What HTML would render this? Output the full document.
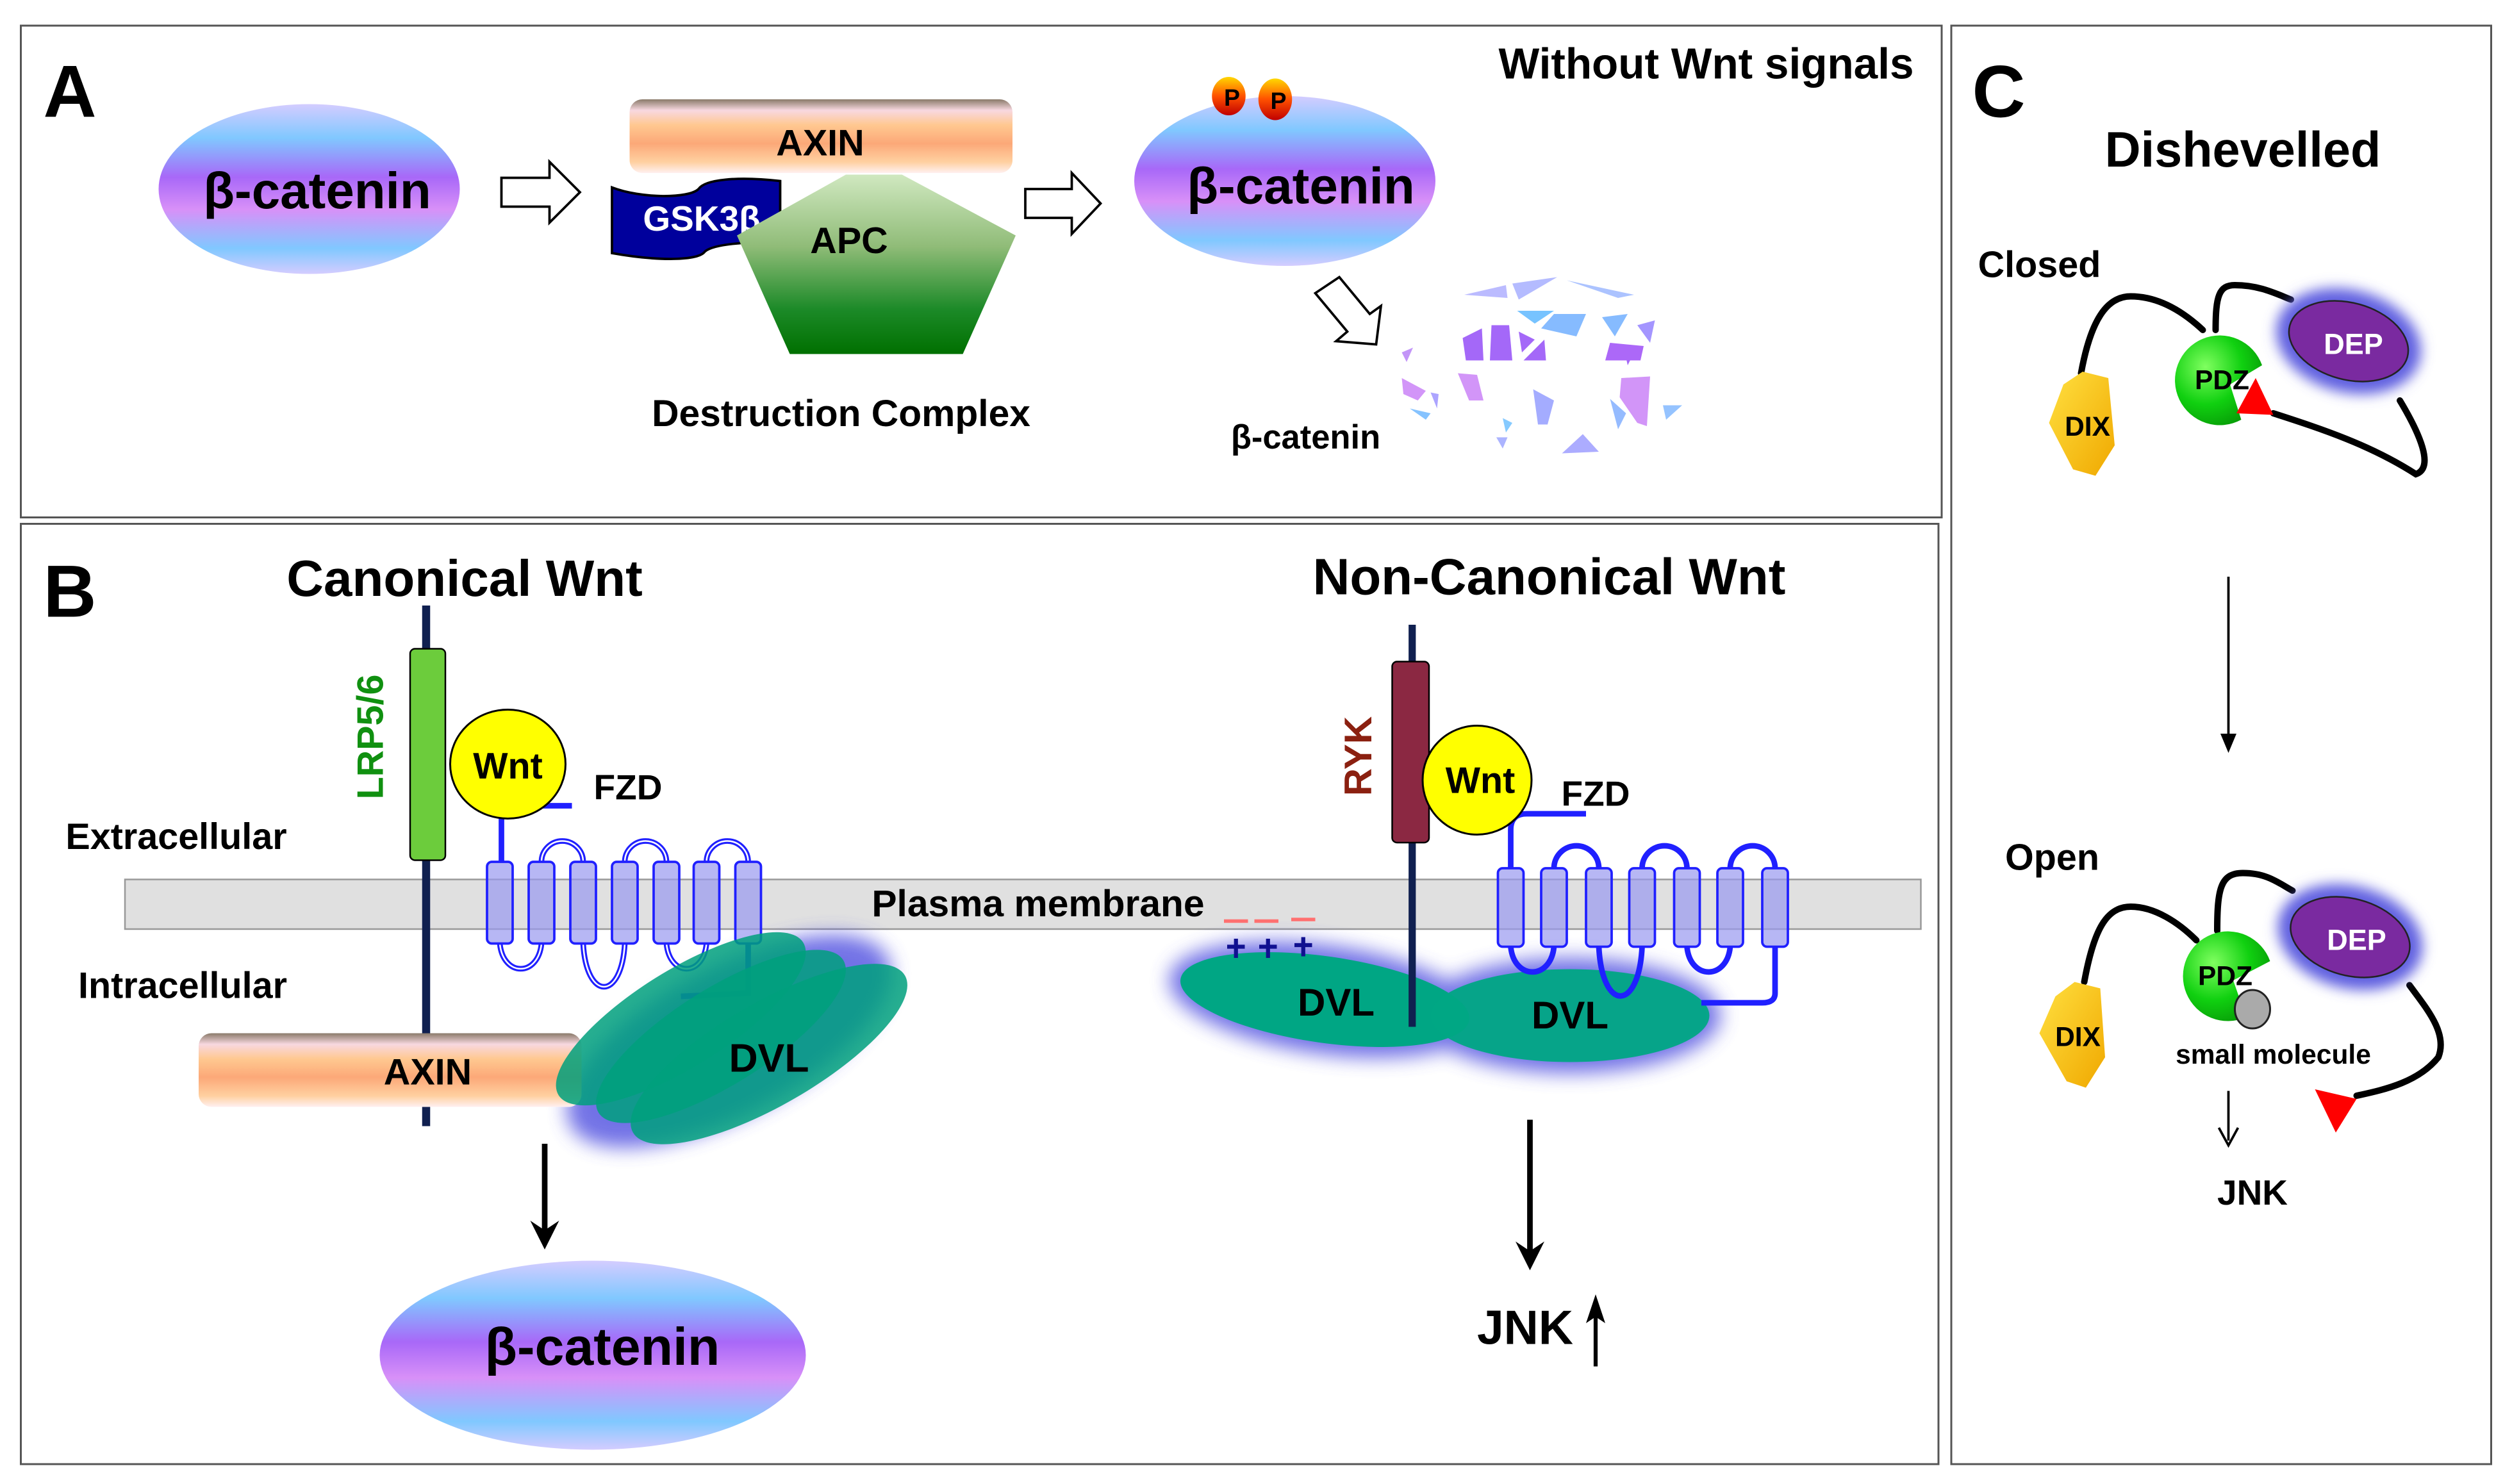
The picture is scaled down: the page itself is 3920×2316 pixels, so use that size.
<!DOCTYPE html>
<html><head><meta charset="utf-8"><style>
html,body{margin:0;padding:0;background:#fff;width:3920px;height:2316px;overflow:hidden}
svg{display:block}
text{font-family:"Liberation Sans",Arial,sans-serif;font-weight:bold}
</style></head><body>
<svg width="3920" height="2316" viewBox="0 0 1568 926.4" preserveAspectRatio="none" xmlns="http://www.w3.org/2000/svg">
<defs>
<linearGradient id="bc" x1="0" y1="0" x2="0" y2="1">
<stop offset="0" stop-color="#d4ccff"/><stop offset="0.2" stop-color="#80c8ff"/><stop offset="0.43" stop-color="#a868f8"/><stop offset="0.62" stop-color="#d890f8"/><stop offset="0.85" stop-color="#80c8ff"/><stop offset="1" stop-color="#d4ccff"/>
</linearGradient>
<linearGradient id="ax" x1="0" y1="0" x2="0" y2="1">
<stop offset="0" stop-color="#8a7a6a"/><stop offset="0.15" stop-color="#f8d8e0"/><stop offset="0.35" stop-color="#ffc890"/><stop offset="0.6" stop-color="#fca878"/><stop offset="0.85" stop-color="#ffd0a0"/><stop offset="1" stop-color="#fff0f0"/>
</linearGradient>
<linearGradient id="apc" x1="0" y1="0" x2="0" y2="1">
<stop offset="0" stop-color="#d0e8c0"/><stop offset="0.4" stop-color="#90bc78"/><stop offset="0.75" stop-color="#1c8a28"/><stop offset="1" stop-color="#007000"/>
</linearGradient>
<linearGradient id="pb" x1="0" y1="0" x2="0" y2="1">
<stop offset="0" stop-color="#ffd800"/><stop offset="0.5" stop-color="#ff5000"/><stop offset="1" stop-color="#c00000"/>
</linearGradient>
<linearGradient id="dix" x1="0" y1="0" x2="1" y2="1">
<stop offset="0" stop-color="#ffe040"/><stop offset="1" stop-color="#f0a800"/>
</linearGradient>
<radialGradient id="pdz" cx="0.35" cy="0.35" r="0.7">
<stop offset="0" stop-color="#80ff60"/><stop offset="0.6" stop-color="#10d010"/><stop offset="1" stop-color="#08a008"/>
</radialGradient>
<filter id="gl" x="-30%" y="-50%" width="160%" height="200%"><feGaussianBlur stdDeviation="6"/></filter>
<filter id="gl2" x="-30%" y="-50%" width="160%" height="200%"><feGaussianBlur stdDeviation="4"/></filter>
</defs>

<rect x="13" y="16" width="1199" height="307" fill="none" stroke="#555" stroke-width="1.2"/>
<rect x="13" y="327" width="1197" height="587" fill="none" stroke="#555" stroke-width="1.2"/>
<rect x="1218" y="16" width="337" height="898" fill="none" stroke="#555" stroke-width="1.2"/>

<!-- Panel A -->
<text x="27" y="73" font-size="46">A</text>
<text x="1065" y="49" font-size="27" text-anchor="middle">Without Wnt signals</text>
<ellipse cx="193" cy="118" rx="94" ry="53" fill="url(#bc)"/>
<text x="198" y="130" font-size="32" text-anchor="middle">β-catenin</text>
<polygon points="313,111 343,111 343,101 362,120 343,139 343,129 313,129" fill="#fff" stroke="#000" stroke-width="1.5"/>
<rect x="393" y="62" width="239" height="46" rx="8" fill="url(#ax)"/>
<text x="512" y="97" font-size="23" text-anchor="middle">AXIN</text>
<path d="M382,117 C400,124 430,124 436,118 C440,112 460,110 487,113 L487,151 C468,151 446,152 440,157 C436,163 410,163 382,158 Z" fill="#00009c" stroke="#000" stroke-width="1.5"/>
<text x="438" y="144" font-size="22" text-anchor="middle" fill="#fff">GSK3β</text>
<polygon points="528,109 563,109 634,147 601,221 493,221 460,147" fill="url(#apc)"/>
<text x="530" y="158" font-size="23" text-anchor="middle">APC</text>
<text x="525" y="266" font-size="23.5" text-anchor="middle">Destruction Complex</text>
<polygon points="640,118 669,118 669,108 687,127 669,146 669,136 640,136" fill="#fff" stroke="#000" stroke-width="1.5"/>
<ellipse cx="802" cy="113" rx="94" ry="53" fill="url(#bc)"/>
<text x="812" y="127" font-size="32" text-anchor="middle">β-catenin</text>
<ellipse cx="767" cy="60" rx="10.5" ry="12" fill="url(#pb)"/>
<ellipse cx="796" cy="62" rx="10.5" ry="13" fill="url(#pb)"/>
<text x="769" y="66" font-size="15" text-anchor="middle">P</text>
<text x="798" y="68" font-size="15" text-anchor="middle">P</text>
<polygon points="821,183 836,173 855,196 862,191 859,215 834,213 841,207" fill="#fff" stroke="#000" stroke-width="1.5"/>
<g opacity="0.95">
<polygon points="914,184 940,178 941,186" fill="#b8b8ff"/>
<polygon points="944,177 972,173 948,187" fill="#b0b8ff"/>
<polygon points="978,175 1020,184 1010,186" fill="#a8c0ff"/>
<polygon points="947,194 970,194 958,202" fill="#70c0ff"/>
<polygon points="970,196 990,196 984,210 962,205" fill="#80b8ff"/>
<polygon points="1000,198 1016,196 1008,210" fill="#80b8ff"/>
<polygon points="1022,203 1033,200 1030,214" fill="#a090ff"/>
<polygon points="913,211 925,205 926,225 915,225" fill="#a060f8"/>
<polygon points="931,203 942,203 944,225 930,225" fill="#a060f8"/>
<polygon points="948,207 958,212 950,220" fill="#a060f8"/>
<polygon points="954,222 964,212 965,225 951,225" fill="#a060f8"/>
<polygon points="1014,219 1020,220 1016,228" fill="#a060f8"/>
<polygon points="1005,214 1026,216 1024,225 1002,225" fill="#a860f8"/>
<polygon points="875,236 890,244 885,250 876,246" fill="#d090f8"/>
<polygon points="910,233 922,234 926,250 917,250" fill="#d090f8"/>
<polygon points="893,245 898,246 897,255" fill="#a8a0ff"/>
<polygon points="880,255 893,258 890,262" fill="#80c0ff"/>
<polygon points="957,243 970,250 966,265 960,265" fill="#a0a8ff"/>
<polygon points="1012,236 1030,235 1028,266 1022,264 1011,248" fill="#d090f8"/>
<polygon points="1005,249 1015,258 1010,268" fill="#90b8ff"/>
<polygon points="1038,253 1050,253 1040,262" fill="#90c0ff"/>
<polygon points="938,261 944,264 940,270" fill="#80c8ff"/>
<polygon points="934,273 941,273 938,280" fill="#a8b0ff"/>
<polygon points="988,271 998,282 975,283" fill="#a8a8ff"/>
<polygon points="875,220 882,217 878,226" fill="#c090f8"/>
</g>
<text x="815" y="280" font-size="21" text-anchor="middle">β-catenin</text>

<!-- Panel B -->
<text x="27" y="385" font-size="46">B</text>
<text x="290" y="372" font-size="32" text-anchor="middle">Canonical Wnt</text>
<text x="967" y="371" font-size="32" text-anchor="middle">Non-Canonical Wnt</text>
<rect x="78" y="549" width="1121" height="31" fill="#e0e0e0" stroke="#999" stroke-width="1"/>
<text x="648" y="572" font-size="23.5" text-anchor="middle">Plasma membrane</text>
<text x="110" y="530" font-size="23" text-anchor="middle">Extracellular</text>
<text x="114" y="623" font-size="23" text-anchor="middle">Intracellular</text>

<g filter="url(#gl)" fill="#5050e0" opacity="0.8">
<ellipse cx="455" cy="650" rx="112" ry="46" transform="rotate(-28 455 650)"/>
</g>
<line x1="266" y1="378" x2="266" y2="703" stroke="#102050" stroke-width="5"/>
<rect x="256" y="405" width="22" height="132" rx="3" fill="#6ccc3c" stroke="#000" stroke-width="1"/>
<text transform="translate(239 460) rotate(-90)" font-size="23" fill="#109010" text-anchor="middle">LRP5/6</text>
<g fill="none" stroke="#2020ff" stroke-width="3.5">
<path d="M313,538 L313,511"/>
<path d="M336,503 L357,503"/>
<path d="M338,538 A13,13 0 0 1 364,538"/>
<path d="M390,538 A13,13 0 0 1 416,538"/>
<path d="M441,538 A13,13 0 0 1 467,538"/>
<path d="M312,589 C314,610 336,610 338,589"/>
<path d="M364,589 C366,625 388,625 390,589"/>
<path d="M416,589 C418,610 439,610 441,589"/>
<path d="M467,589 L467,620 L425,622"/>
</g>
<g fill="none" stroke="#fff" stroke-width="1">
<path d="M338,538 A13,13 0 0 1 364,538"/><path d="M390,538 A13,13 0 0 1 416,538"/><path d="M441,538 A13,13 0 0 1 467,538"/>
<path d="M312,589 C314,610 336,610 338,589"/><path d="M364,589 C366,625 388,625 390,589"/><path d="M416,589 C418,610 439,610 441,589"/>
</g>
<g fill="#9898f0" fill-opacity="0.7" stroke="#2020ff" stroke-width="1.5">
<rect x="304" y="538" width="16" height="51" rx="3"/><rect x="330" y="538" width="16" height="51" rx="3"/><rect x="356" y="538" width="16" height="51" rx="3"/><rect x="382" y="538" width="16" height="51" rx="3"/><rect x="408" y="538" width="16" height="51" rx="3"/><rect x="433" y="538" width="16" height="51" rx="3"/><rect x="459" y="538" width="16" height="51" rx="3"/>
</g>
<ellipse cx="317" cy="477" rx="36" ry="34" fill="#ffff00" stroke="#000" stroke-width="1.2"/>
<text x="317" y="486" font-size="23" text-anchor="middle">Wnt</text>
<text x="392" y="499" font-size="22" text-anchor="middle">FZD</text>
<rect x="124" y="645" width="239" height="46" rx="8" fill="url(#ax)"/>
<text x="267" y="677" font-size="23" text-anchor="middle">AXIN</text>
<g fill="#00a07c" fill-opacity="0.85">
<ellipse cx="425" cy="636" rx="90" ry="30" transform="rotate(-32 425 636)"/>
<ellipse cx="450" cy="647" rx="90" ry="30" transform="rotate(-32 450 647)"/>
<ellipse cx="480" cy="658" rx="98" ry="32" transform="rotate(-30 480 658)"/>
</g>
<text x="480" y="669" font-size="25" text-anchor="middle">DVL</text>
<line x1="340" y1="714" x2="340" y2="770" stroke="#000" stroke-width="3.5"/>
<polygon points="331,762 340,780 349,762 340,768" fill="#000"/>
<ellipse cx="370" cy="846" rx="133" ry="59" fill="url(#bc)"/>
<text x="376" y="852" font-size="33" text-anchor="middle">β-catenin</text>

<g filter="url(#gl)" fill="#5050e0" opacity="0.8">
<ellipse cx="827" cy="624" rx="98" ry="34" transform="rotate(8 827 624)"/>
<ellipse cx="980" cy="634" rx="94" ry="36"/>
</g>
<g fill="#00a684">
<ellipse cx="827" cy="624" rx="91" ry="27" transform="rotate(8 827 624)"/>
<ellipse cx="980" cy="634" rx="87" ry="29" fill-opacity="0.95"/>
</g>
<line x1="881.5" y1="390" x2="881.5" y2="641" stroke="#102050" stroke-width="4.5"/>
<rect x="869" y="413" width="23" height="113" rx="3" fill="#8b2842" stroke="#000" stroke-width="1"/>
<text transform="translate(856 472) rotate(-90)" font-size="24" fill="#8b2010" text-anchor="middle">RYK</text>
<g fill="none" stroke="#2020ff" stroke-width="3.5">
<path d="M943,542 L943,518 Q943,508 953,508 L990,508"/>
<path d="M970,542 A14,14 0 0 1 998,542"/>
<path d="M1025,542 A14,14 0 0 1 1053,542"/>
<path d="M1080,542 A14,14 0 0 1 1108,542"/>
<path d="M943,591 C945,612 968,612 970,591"/>
<path d="M998,591 C1000,632 1023,632 1025,591"/>
<path d="M1053,591 C1055,612 1078,612 1080,591"/>
<path d="M1108,591 L1108,620 Q1108,626 1100,626 L1062,626"/>
</g>
<g fill="#9898f0" fill-opacity="0.7" stroke="#2020ff" stroke-width="1.5">
<rect x="935" y="542" width="16" height="49" rx="3"/><rect x="962" y="542" width="16" height="49" rx="3"/><rect x="990" y="542" width="16" height="49" rx="3"/><rect x="1017" y="542" width="16" height="49" rx="3"/><rect x="1045" y="542" width="16" height="49" rx="3"/><rect x="1072" y="542" width="16" height="49" rx="3"/><rect x="1100" y="542" width="16" height="49" rx="3"/>
</g>
<ellipse cx="922" cy="487" rx="34" ry="34" fill="#ffff00" stroke="#000" stroke-width="1.2"/>
<text x="924" y="495" font-size="23" text-anchor="middle">Wnt</text>
<text x="996" y="503" font-size="22" text-anchor="middle">FZD</text>
<g stroke="#ff7070" stroke-width="2.2">
<line x1="764" y1="575" x2="779" y2="575"/><line x1="783" y1="575" x2="798" y2="575"/><line x1="806" y1="574" x2="821" y2="574"/>
</g>
<g stroke="#101090" stroke-width="2.5">
<line x1="766" y1="591" x2="777" y2="591"/><line x1="771.5" y1="586" x2="771.5" y2="598"/>
<line x1="786" y1="591" x2="797" y2="591"/><line x1="791.5" y1="586" x2="791.5" y2="598"/>
<line x1="808" y1="590" x2="819" y2="590"/><line x1="813.5" y1="585" x2="813.5" y2="597"/>
</g>
<text x="834" y="634" font-size="24" text-anchor="middle">DVL</text>
<text x="980" y="642" font-size="24" text-anchor="middle">DVL</text>
<line x1="955" y1="699" x2="955" y2="783" stroke="#000" stroke-width="3.5"/>
<polygon points="946,775 955,793 964,775 955,781" fill="#000"/>
<text x="952" y="839" font-size="30" text-anchor="middle">JNK</text>
<line x1="996" y1="814" x2="996" y2="853" stroke="#000" stroke-width="2.5"/>
<polygon points="990,826 996,808 1002,826 996,822" fill="#000"/>

<!-- Panel C -->
<text x="1231" y="73" font-size="46">C</text>
<text x="1400" y="104" font-size="31" text-anchor="middle">Dishevelled</text>
<text x="1273" y="173" font-size="23" text-anchor="middle">Closed</text>
<g fill="none" stroke="#000" stroke-width="4" stroke-linecap="round">
<path d="M1299,233 C1305,200 1315,185 1330,185 C1345,185 1360,192 1375,206"/>
<path d="M1383,206 C1383,185 1385,178 1395,178 C1410,178 1420,183 1430,187"/>
<path d="M1419,258 C1450,268 1480,278 1508,296 C1520,292 1510,270 1498,250"/>
</g>
<ellipse cx="1466" cy="213" rx="46" ry="32" fill="#6060e0" filter="url(#gl2)" transform="rotate(15 1466 213)"/>
<ellipse cx="1466" cy="213" rx="38" ry="24" fill="#7a2aa0" stroke="#222" stroke-width="1" transform="rotate(15 1466 213)"/>
<text x="1469" y="221" font-size="18" fill="#fff" text-anchor="middle">DEP</text>
<path d="M1412,228 A28,28 0 1 0 1399,262 L1392,240 Z" fill="url(#pdz)"/>
<polygon points="1396,258 1408,236 1419,259" fill="#ff0000"/>
<text x="1387" y="243" font-size="17" text-anchor="middle">PDZ</text>
<polygon points="1288,240 1300,232 1316,236 1320,278 1308,297 1294,293 1279,264" fill="url(#dix)"/>
<text x="1303" y="272" font-size="17" text-anchor="middle">DIX</text>

<line x1="1391" y1="360" x2="1391" y2="465" stroke="#000" stroke-width="1.5"/>
<polygon points="1386,458 1391,470 1396,458" fill="#000"/>

<text x="1281" y="543" font-size="23" text-anchor="middle">Open</text>
<g fill="none" stroke="#000" stroke-width="4" stroke-linecap="round">
<path d="M1301,613 C1307,580 1315,566 1330,566 C1345,566 1360,576 1371,587"/>
<path d="M1384,581 C1384,555 1386,545 1400,545 C1415,545 1422,551 1431,556"/>
<path d="M1504,615 C1515,630 1528,645 1522,660 C1510,675 1490,680 1471,684"/>
</g>
<ellipse cx="1467" cy="585" rx="46" ry="32" fill="#6060e0" filter="url(#gl2)" transform="rotate(15 1467 585)"/>
<ellipse cx="1467" cy="585" rx="38" ry="24" fill="#7a2aa0" stroke="#222" stroke-width="1" transform="rotate(15 1467 585)"/>
<text x="1471" y="593" font-size="18" fill="#fff" text-anchor="middle">DEP</text>
<path d="M1417,600 A28,28 0 1 0 1402,635 L1394,612 Z" fill="url(#pdz)"/>
<ellipse cx="1406" cy="630" rx="11" ry="12" fill="#aaa" stroke="#222" stroke-width="1.2"/>
<text x="1389" y="615" font-size="17" text-anchor="middle">PDZ</text>
<polygon points="1283,622 1295,613 1311,617 1314,660 1302,679 1290,675 1273,645" fill="url(#dix)"/>
<text x="1297" y="653" font-size="17" text-anchor="middle">DIX</text>
<text x="1419" y="664" font-size="17" text-anchor="middle">small  molecule</text>
<polygon points="1445,680 1471,686 1458,707" fill="#ff0000"/>
<line x1="1391" y1="681" x2="1391" y2="712" stroke="#000" stroke-width="1.5"/>
<path d="M1385,704 L1391,715 L1397,704" fill="none" stroke="#000" stroke-width="1.5"/>
<text x="1406" y="752" font-size="22" text-anchor="middle">JNK</text>
</svg>
</body></html>
